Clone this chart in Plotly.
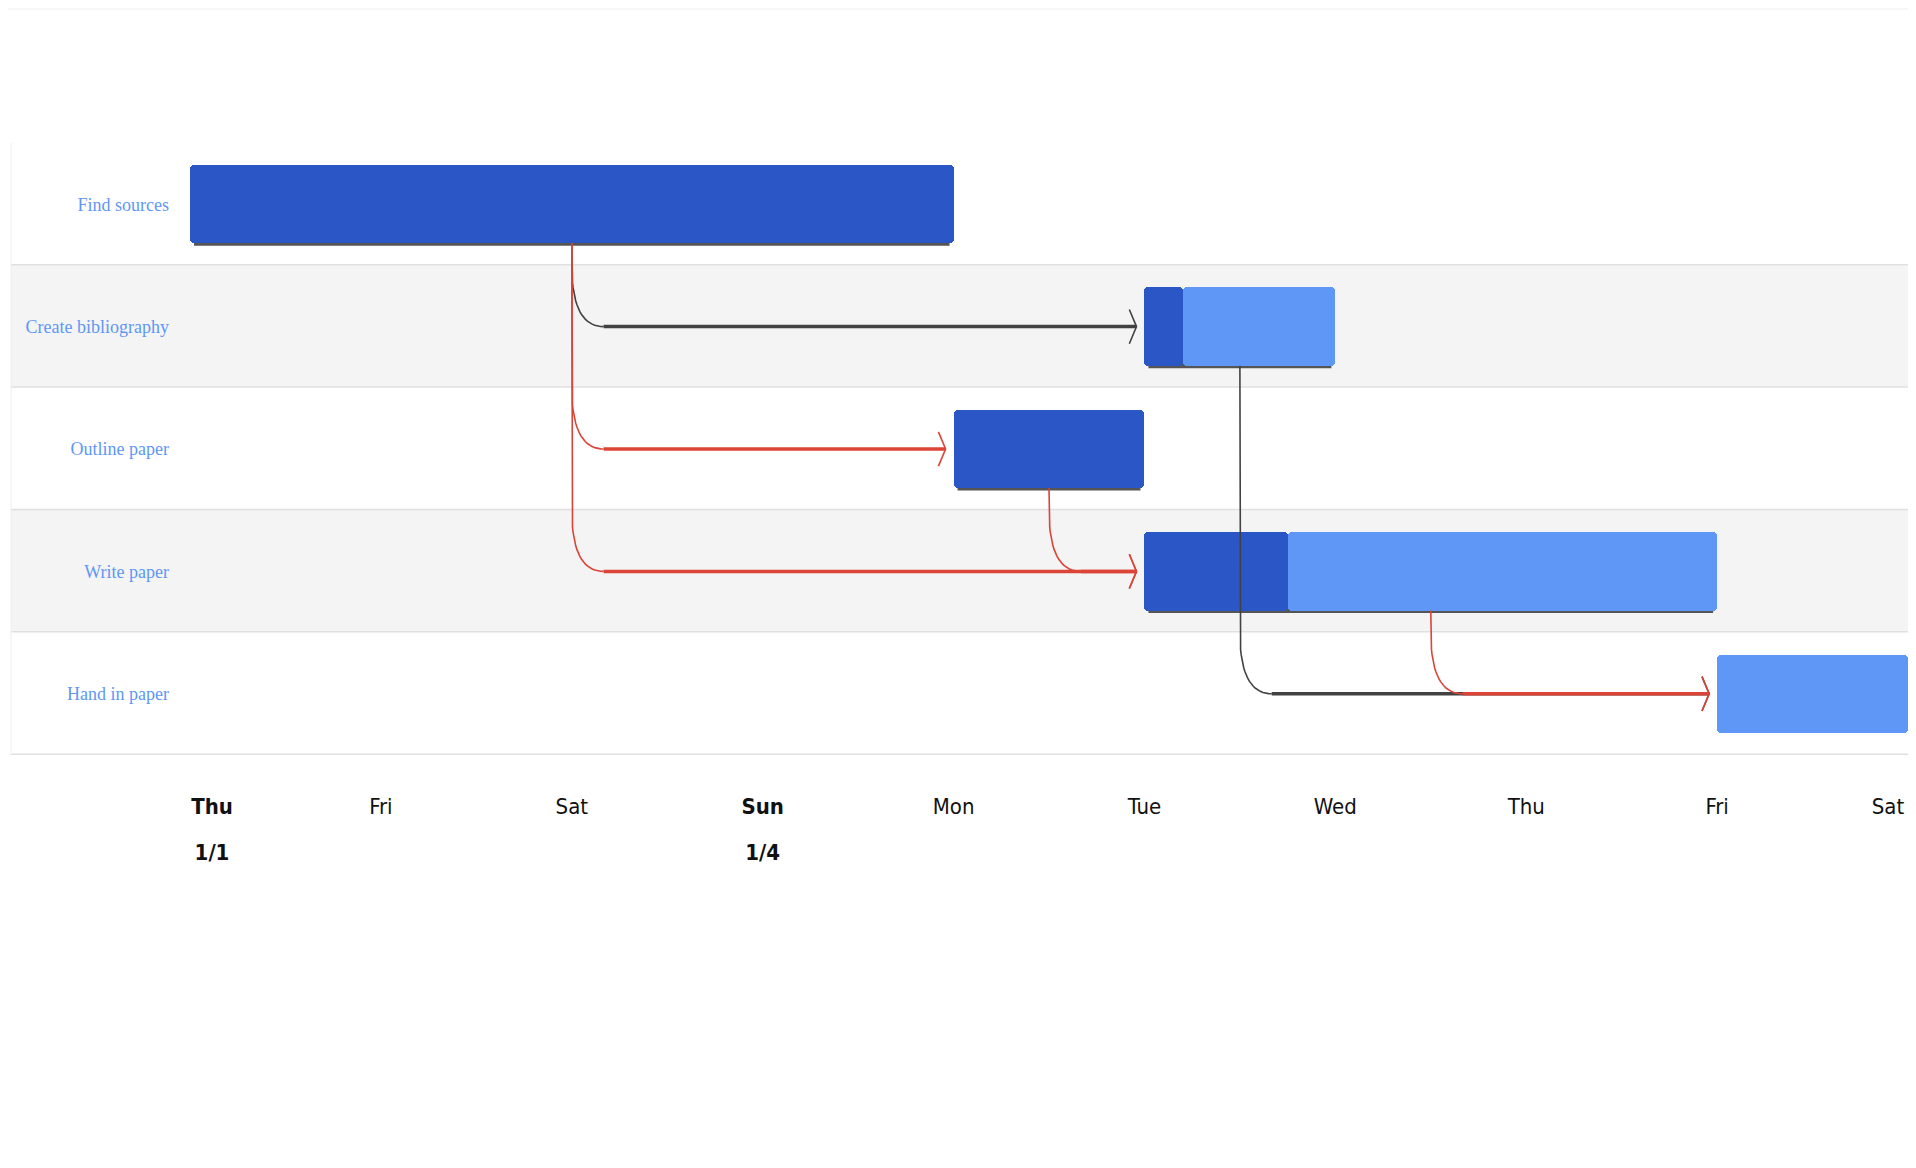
import pandas as pd
import plotly.graph_objects as go

# task data (Google-style gantt: research paper plan)
tasks = ["Find sources", "Create bibliography", "Outline paper", "Write paper", "Hand in paper"]
start_dates = ["2015-01-01", "2015-01-06", "2015-01-05", "2015-01-06", "2015-01-09"]
end_dates = ["2015-01-05", "2015-01-07", "2015-01-06", "2015-01-09", "2015-01-10"]
percent_done = [100, 20, 100, 25, 0]

# dependencies: predecessor -> successor, critical path drawn in red
dep_from = ["Find sources", "Create bibliography", "Find sources", "Find sources", "Outline paper", "Write paper"]
dep_to = ["Create bibliography", "Hand in paper", "Outline paper", "Write paper", "Write paper", "Hand in paper"]
dep_critical = [False, False, True, True, True, True]

day_ticks = ["2015-01-01", "2015-01-02", "2015-01-03", "2015-01-04", "2015-01-05",
             "2015-01-06", "2015-01-07", "2015-01-08", "2015-01-09", "2015-01-10"]
day_labels = ["<b>Thu</b>", "Fri", "Sat", "<b>Sun</b>", "Mon", "Tue", "Wed", "Thu", "Fri", "Sat"]
date_ticks = ["2015-01-01", "2015-01-04"]
date_labels = ["<b>1/1</b>", "<b>1/4</b>"]

DARK = "#2a56c6"
LIGHT = "#5e97f6"
BLACK = "#424242"
RED = "#db4437"
HALF = 0.32
PAD = "\u00a0" * 7  # nudges the first labels right, inside the chart

starts = pd.to_datetime(start_dates)
ends = pd.to_datetime(end_dates)
done = starts + (ends - starts) * [p / 100 for p in percent_done]
idx = {t: i for i, t in enumerate(tasks)}
rows = list(range(len(tasks)))

fig = go.Figure()

# dependency arrows first so the bars sit on top of them
ch = pd.Timedelta(hours=4)
tip_gap = pd.Timedelta(hours=1)
head = pd.Timedelta(hours=0.9)
for crit in [False, True]:
    thin_x, thin_y, thick_x, thick_y = [], [], [], []
    for p, q, c in zip(dep_from, dep_to, dep_critical):
        if c != crit:
            continue
        i, j = idx[p], idx[q]
        mid = starts[i] + (ends[i] - starts[i]) / 2
        y0 = i + HALF
        ty = j
        cv = min(ty - y0, 0.5)
        tx = starts[j] - tip_gap
        thin_x += [mid, mid]
        thin_y += [y0, ty - cv]
        for k in range(1, 21):
            t = k / 20
            thin_x.append(mid + ch * (t * t))
            thin_y.append(ty - cv * (1 - t) ** 2)
        thin_x.append(None)
        thin_y.append(None)
        thin_x += [tx - head, tx, tx - head, None]
        thin_y += [ty - 0.14, ty, ty + 0.14, None]
        thick_x += [mid + ch, tx, None]
        thick_y += [ty, ty, None]
    col = RED if crit else BLACK
    fig.add_trace(go.Scatter(x=thin_x, y=thin_y, mode="lines", line=dict(color=col, width=1.6),
                             hoverinfo="skip", showlegend=False))
    fig.add_trace(go.Scatter(x=thick_x, y=thick_y, mode="lines", line=dict(color=col, width=3.5),
                             hoverinfo="skip", showlegend=False))

# completed part and remaining part of each task
fig.add_trace(go.Bar(
    y=rows, base=starts, x=[(d - s).total_seconds() * 1000 for s, d in zip(starts, done)],
    orientation="h", width=2 * HALF, marker=dict(color=DARK, cornerradius=4, line=dict(width=0)),
    name="done", showlegend=False))
fig.add_trace(go.Bar(
    y=rows, base=done, x=[(e - d).total_seconds() * 1000 for d, e in zip(done, ends)],
    orientation="h", width=2 * HALF, marker=dict(color=LIGHT, cornerradius=4, line=dict(width=0)),
    name="remaining", showlegend=False))

# invisible traces carrying the extra label axes (date row, last day label)
for ax in ["x2", "x3"]:
    fig.add_trace(go.Scatter(x=[day_ticks[0]], y=[0], xaxis=ax, mode="markers",
                             marker=dict(opacity=0), hoverinfo="skip", showlegend=False))

W, H = 1900, 1152
L, R, T, B = 182, 0, 135, 405
pw = W - L - R
left = -(L - 3) / pw
shapes = []
for i in rows:
    shapes.append(dict(type="rect", xref="paper", yref="y", x0=left, x1=1, y0=i - 0.5, y1=i + 0.5,
                       fillcolor="#f4f4f4" if i % 2 else "white", line=dict(width=0), layer="below"))
    shapes.append(dict(type="line", xref="paper", yref="y", x0=left, x1=1, y0=i + 0.5, y1=i + 0.5,
                       line=dict(color="#e0e0e0", width=3), layer="below"))
    if percent_done[i] > 0:
        shapes.append(dict(type="rect", xref="x", yref="y",
                           x0=starts[i] + pd.Timedelta(hours=0.5), x1=ends[i] - pd.Timedelta(hours=0.5),
                           y0=i + 0.2, y1=i + HALF + 0.02, fillcolor="#555555",
                           line=dict(width=0), layer="below"))
shapes.append(dict(type="line", xref="paper", yref="y", x0=left, x1=left, y0=-0.5, y1=len(tasks) - 0.5,
                   line=dict(color="#eeeeee", width=1), layer="below"))
shapes.append(dict(type="line", xref="paper", yref="paper", x0=-L / pw, x1=1,
                   y0=1 + (T - 1) / (H - T - B), y1=1 + (T - 1) / (H - T - B),
                   line=dict(color="#eeeeee", width=1)))

x_text = [PAD + day_labels[0]] + day_labels[1:-1] + [""]
x2_text = [PAD + date_labels[0]] + date_labels[1:]

axis_font = dict(family="Liberation Sans Narrow, DejaVu Sans Condensed, Liberation Sans", size=22, color="#111111")
xrange = [day_ticks[0], day_ticks[-1]]
common = dict(type="date", range=xrange, showgrid=False, zeroline=False, showline=False, ticks="",
              tickfont=axis_font, automargin=False, ticklabeloverflow="allow")
fig.update_layout(
    width=W, height=H,
    margin=dict(l=L, r=R, t=T, b=B),
    paper_bgcolor="white", plot_bgcolor="white",
    barmode="overlay", bargap=0,
    shapes=shapes,
    xaxis=dict(common, tickvals=day_ticks, ticktext=x_text, ticklabelstandoff=36),
    xaxis2=dict(common, overlaying="x", side="bottom", tickvals=date_ticks, ticktext=x2_text,
                ticklabelstandoff=82),
    xaxis3=dict(common, overlaying="x", side="bottom", tickvals=day_ticks[-1:], ticktext=day_labels[-1:],
                ticklabelshift=-20, ticklabelstandoff=36),
    yaxis=dict(range=[len(tasks) - 0.5, -0.5], tickvals=rows, ticktext=tasks, automargin=False,
               showgrid=False, zeroline=False, showline=False, ticks="", ticklabelstandoff=20,
               tickfont=dict(family="Liberation Serif, Times New Roman, serif", size=18, color=LIGHT)),
)

fig.write_html("out.html")
